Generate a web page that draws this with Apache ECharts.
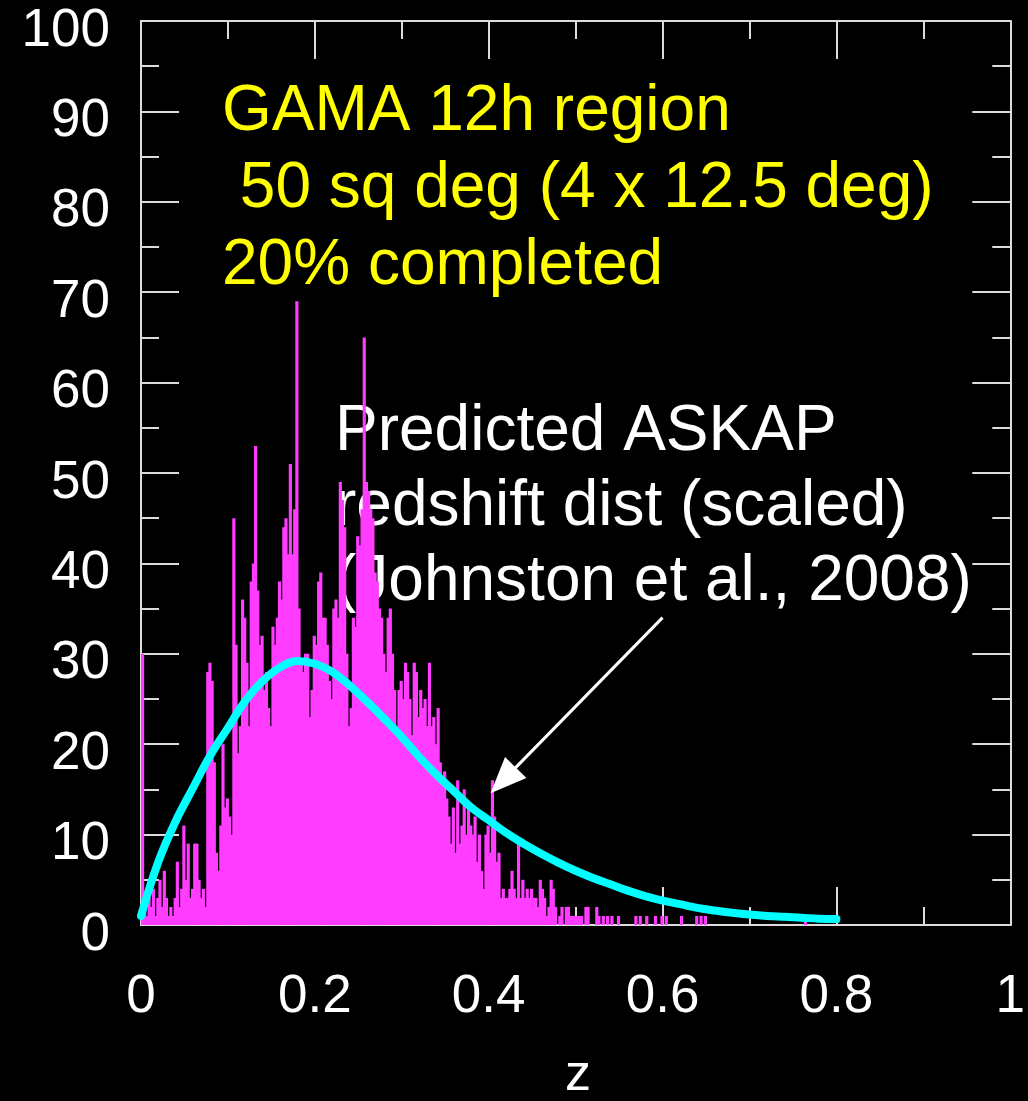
<!DOCTYPE html>
<html>
<head>
<meta charset="utf-8">
<script src="https://cdn.jsdelivr.net/npm/echarts@6/dist/echarts.min.js"></script>
<style>
html,body{margin:0;padding:0;background:#000;}
#chart{width:1028px;height:1101px;}
</style>
</head>
<body>
<div id="chart"></div>
<script>
// ---- data ----
const binWidth = 0.0025;
// GAMA histogram counts per bin starting at z = 0
const counts = [
  30,2,1,3,2,4,1,3,5,2,
  6,3,1,2,1,3,7,2,4,11,
  5,9,3,4,9,9,5,3,4,2,
  28,29,27,18,8,6,11,20,13,14,
  12,10,45,31,19,22,36,34,29,22,
  38,40,53,37,31,32,26,28,24,22,
  33,31,34,38,36,44,45,41,51,41,
  46,69,35,29,28,30,30,23,26,32,
  31,38,39,34,34,31,27,25,35,36,
  34,49,47,44,30,22,24,34,33,43,
  42,46,65,49,48,46,45,39,38,35,
  34,30,28,34,35,30,26,22,26,27,
  25,29,28,25,21,29,28,23,26,24,
  25,22,29,22,23,20,24,18,16,17,
  14,12,9,13,8,16,9,11,15,10,
  13,11,10,12,7,10,6,4,10,11,
  8,16,12,7,8,3,4,3,3,4,
  6,4,3,9,3,5,3,4,3,4,
  3,3,2,5,4,3,1,2,5,4,
  2,0,1,2,0,2,2,1,1,1,
  1,1,1,0,2,2,0,0,0,2,
  1,0,1,0,1,0,1,0,0,1,0
];
// sparse high-z tail bins (bin start z, count)
const tailZ = [0.5675,0.5725,0.58,0.59,0.5975,0.6025,0.62,0.6375,0.6425,0.6475,0.7625];
const tailCounts = [1,1,1,1,1,1,1,1,1,1,1];

// predicted ASKAP redshift distribution (scaled)
const curveZ = [0,0.02,0.04,0.06,0.08,0.10,0.12,0.14,0.16,0.18,0.20,0.22,0.24,0.26,0.28,0.30,0.32,0.34,0.36,0.38,0.40,0.42,0.44,0.46,0.48,0.50,0.52,0.54,0.56,0.58,0.60,0.62,0.64,0.66,0.68,0.70,0.72,0.74,0.76,0.78,0.80];
const curveN = [1.0,7.0,11.5,15.2,18.8,21.8,24.8,27.0,28.5,29.2,28.9,28.0,26.5,24.7,22.8,20.8,18.6,16.6,14.8,13.0,11.6,10.2,9.0,7.9,6.9,6.0,5.2,4.5,3.8,3.2,2.7,2.3,1.9,1.6,1.35,1.15,1.0,0.9,0.8,0.7,0.65];

const xTicks = [0,0.2,0.4,0.6,0.8,1];
const yTicks = [0,10,20,30,40,50,60,70,80,90,100];

const titleLines = ['GAMA 12h region', ' 50 sq deg (4 x 12.5 deg)', '20% completed'];
const noteLines = ['Predicted ASKAP', 'redshift dist (scaled)', '(Johnston et al., 2008)'];
const arrowFrom = [0.600, 34.0];
const arrowTo = [0.4166, 16.0];
const xName = 'z';

// ---- build ----
const histData = [];
counts.forEach((c, i) => { if (c > 0) histData.push([i * binWidth, (i + 1) * binWidth, c]); });
tailZ.forEach((z, i) => histData.push([z, z + binWidth, tailCounts[i]]));
const curveData = curveZ.map((z, i) => [z, curveN[i]]);

const FONT = '"Liberation Sans", Arial, Helvetica, sans-serif';
const AX = '#dcdcdc';

function axisCommon(pos, isX, showLabel) {
  const lbl = { fontSize: 53, fontFamily: FONT, color: '#ffffff' };
  return {
    type: 'value',
    position: pos,
    min: 0,
    max: isX ? 1 : 100,
    interval: isX ? 0.2 : 10,
    axisLine: { show: true, onZero: false, lineStyle: { color: AX, width: 2 } },
    axisTick: { show: true, inside: true, length: 38, lineStyle: { color: AX, width: 2 } },
    minorTick: { show: true, splitNumber: 2, length: 18, lineStyle: { color: AX, width: 2 } },
    splitLine: { show: false },
    minorSplitLine: { show: false },
    axisLabel: showLabel ? Object.assign({
      show: true,
      margin: isX ? 46 : 31,
      formatter: v => '{a|' + String(Math.round(v * 10) / 10) + '}',
      rich: { a: Object.assign({ padding: isX ? 0 : [20, 0, 0, 0] }, lbl) }
    }, lbl) : { show: false }
  };
}

const chart = echarts.init(document.getElementById('chart'), null, { renderer: 'canvas' });

const graphics = [];
titleLines.forEach((t, k) => graphics.push({
  type: 'text', left: 222, top: 80 + k * 77, silent: true,
  style: { text: t, fill: '#ffff00', font: '64px ' + FONT }
}));
noteLines.forEach((t, k) => graphics.push({
  type: 'text', left: 335, top: 400 + k * 75, silent: true,
  style: { text: t, fill: '#ffffff', font: '64px ' + FONT }
}));
graphics.push({
  type: 'text', left: 565, top: 1050, silent: true,
  style: { text: xName, fill: '#ffffff', font: '52px ' + FONT }
});

chart.setOption({
  backgroundColor: '#000000',
  animation: false,
  grid: { left: 141, right: 14, top: 21, bottom: 176, containLabel: false },
  xAxis: [axisCommon('bottom', true, true), axisCommon('top', true, false)],
  yAxis: [axisCommon('left', false, true), axisCommon('right', false, false)],
  graphic: graphics,
  series: [
    {
      type: 'custom',
      xAxisIndex: 0, yAxisIndex: 0,
      data: histData,
      clip: true,
      renderItem: function (params, api) {
        const p0 = api.coord([api.value(0), api.value(2)]);
        const p1 = api.coord([api.value(1), 0]);
        return {
          type: 'rect',
          shape: { x: p0[0], y: p0[1], width: Math.max(p1[0] - p0[0] + 1.0, 1.5), height: p1[1] - p0[1] },
          style: { fill: '#ff3cff' }
        };
      },
      z: 2
    },
    {
      type: 'line',
      xAxisIndex: 0, yAxisIndex: 0,
      data: curveData,
      smooth: 0.4,
      showSymbol: false,
      symbol: 'none',
      lineStyle: { color: '#00ffff', width: 8, cap: 'round' },
      z: 3,
      markLine: {
        silent: true,
        symbol: ['none', 'triangle'],
        symbolSize: [30, 36],
        label: { show: false },
        lineStyle: { color: '#ffffff', width: 3, type: 'solid' },
        data: [[{ coord: arrowFrom }, { coord: arrowTo }]]
      }
    }
  ]
});
</script>
</body>
</html>
